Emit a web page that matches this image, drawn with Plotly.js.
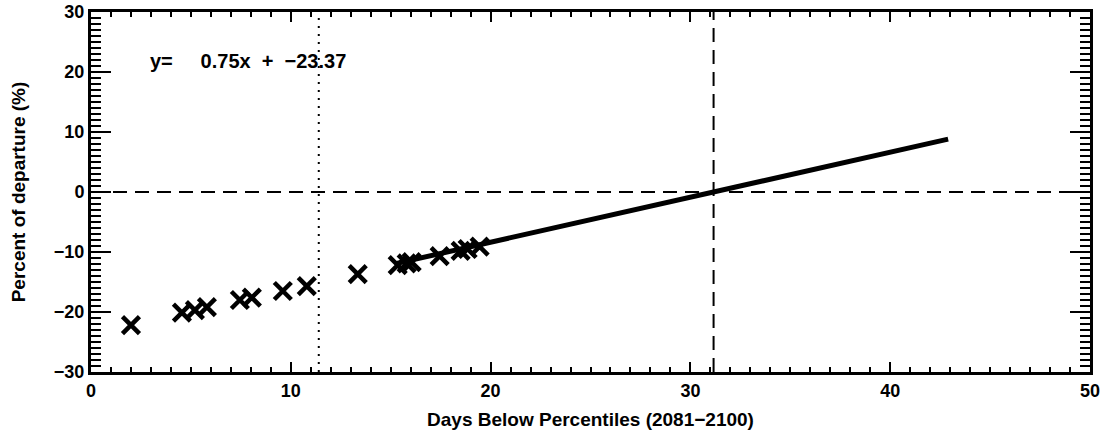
<!DOCTYPE html>
<html>
<head>
<meta charset="utf-8">
<script src="https://cdn.plot.ly/plotly-3.0.1.min.js"></script>
<style>
  html, body { margin: 0; padding: 0; background: #fff; }
  #chart { width: 1115px; height: 436px; }
</style>
</head>
<body>
<div id="chart"></div>
<script>
// Days below percentiles (2081-2100) vs percent of departure
const daysBelow = [2.0, 4.55, 5.2, 5.8, 7.45, 8.05, 9.6, 10.8, 13.35, 15.35, 15.8, 16.05, 17.45, 18.5, 18.85, 19.45];
const departure = [-22.2, -20.1, -19.7, -19.2, -18.0, -17.6, -16.5, -15.7, -13.7, -12.2, -11.9, -11.7, -10.7, -9.8, -9.5, -9.1];

// Regression line from the stated fit
const fitSlope = 0.75;
const fitIntercept = -23.37;
const fitRange = [15.3, 42.9];

// Reference markers
const dottedX = 11.4;
const zeroY = 0;

const xTicks = [0, 10, 20, 30, 40, 50];
const yTicks = [-30, -20, -10, 0, 10, 20, 30];

const fitY = fitRange.map(x => fitSlope * x + fitIntercept);
const crossX = -fitIntercept / fitSlope;

const font = { family: 'Liberation Sans, Arial, sans-serif', size: 18, color: '#000', weight: 'bold' };

const traces = [
  {
    x: fitRange, y: fitY, mode: 'lines',
    line: { color: '#000', width: 5 }, hoverinfo: 'skip'
  },
  {
    x: daysBelow, y: departure, mode: 'markers',
    marker: { symbol: 'x-thin-open', size: 17, color: '#000', line: { color: '#000', width: 4.5 } }
  }
];

const layout = {
  width: 1115, height: 436,
  margin: { l: 91, r: 25, t: 12, b: 64 },
  paper_bgcolor: '#fff', plot_bgcolor: '#fff',
  showlegend: false,
  font: font,
  xaxis: {
    range: [0, 50], tickvals: xTicks, ticktext: xTicks.map(String),
    showgrid: false, zeroline: false,
    showline: true, linecolor: '#000', linewidth: 3, mirror: 'ticks',
    ticks: 'inside', ticklen: 10, tickwidth: 2, tickcolor: '#000',
    minor: { dtick: 1, ticks: 'inside', ticklen: 5, tickwidth: 2, tickcolor: '#000' },
    tickfont: font,
    title: { text: 'Days Below Percentiles (2081\u22122100)', font: { ...font, size: 19 }, standoff: 14 }
  },
  yaxis: {
    range: [-30, 30], tickvals: yTicks, ticktext: yTicks.map(v => String(v).replace('-', '\u2212')),
    showgrid: false, zeroline: false,
    showline: true, linecolor: '#000', linewidth: 3, mirror: 'ticks',
    ticks: 'inside', ticklen: 20, tickwidth: 2, tickcolor: '#000',
    minor: { dtick: 1, ticks: 'inside', ticklen: 10, tickwidth: 2, tickcolor: '#000' },
    tickfont: font,
    title: { text: 'Percent of departure (%)', font: { ...font, size: 19 }, standoff: 24 }
  },
  shapes: [
    { type: 'line', xref: 'paper', x0: 0, x1: 1, yref: 'y', y0: zeroY, y1: zeroY,
      line: { color: '#000', width: 2, dash: '14px,8px' } },
    { type: 'line', xref: 'x', x0: crossX, x1: crossX, yref: 'paper', y0: 0, y1: 1,
      line: { color: '#000', width: 2, dash: '14px,8px' } },
    { type: 'line', xref: 'x', x0: dottedX, x1: dottedX, yref: 'paper', y0: 0, y1: 1,
      line: { color: '#000', width: 2, dash: '2px,6px' } }
  ],
  annotations: [
    { x: 2.85, y: 21.8, xref: 'x', yref: 'y', xanchor: 'left', yanchor: 'middle',
      showarrow: false, text: 'y=\u00a0\u00a0\u00a0\u00a0\u00a00.75x\u00a0\u00a0+\u00a0\u00a0\u221223.37',
      font: { ...font, size: 20 } }
  ]
};

Plotly.newPlot('chart', traces, layout, { displayModeBar: false, staticPlot: true });
</script>
</body>
</html>
